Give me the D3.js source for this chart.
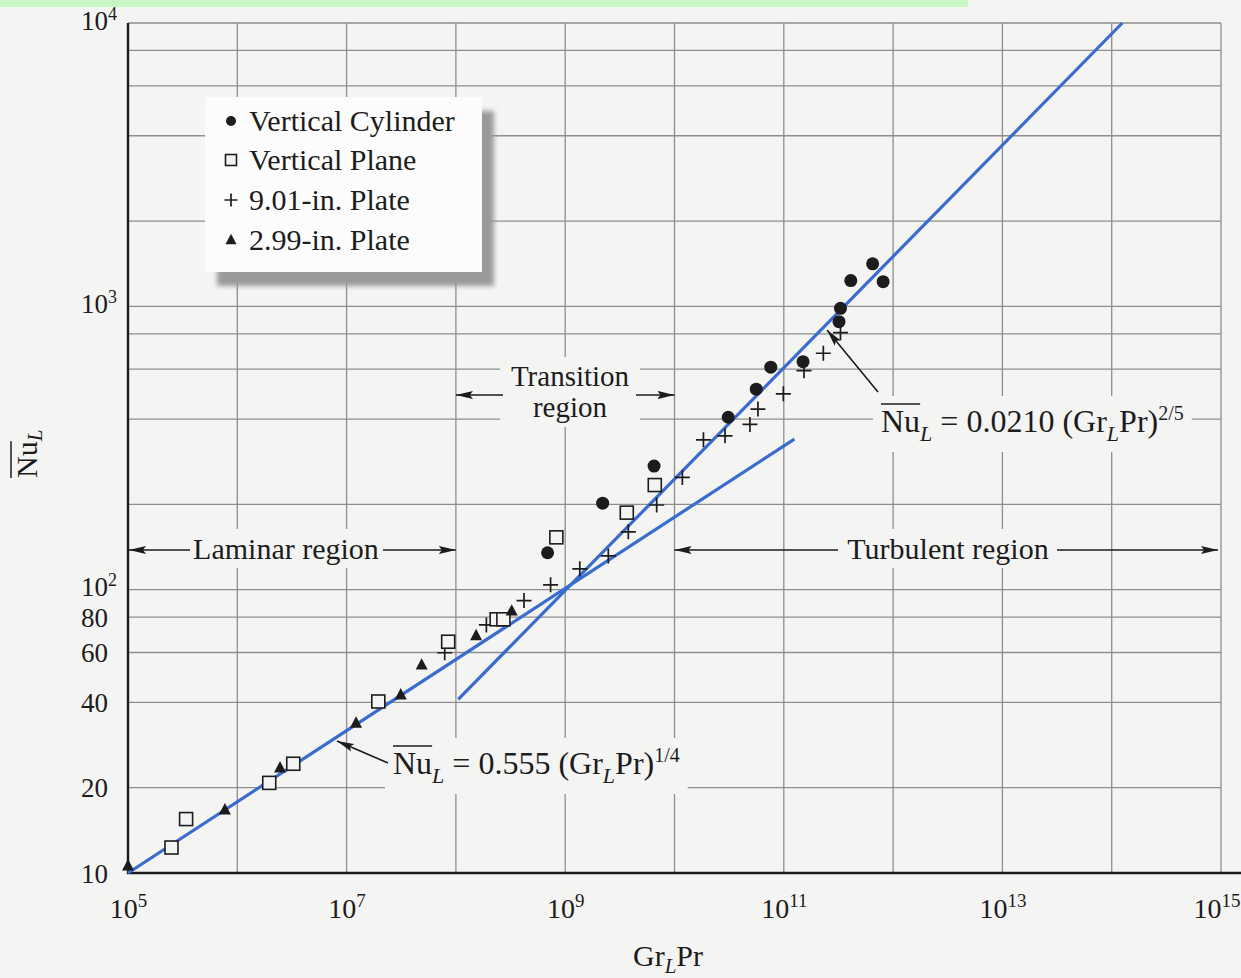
<!DOCTYPE html>
<html>
<head>
<meta charset="utf-8">
<title>Nu vs Gr Pr</title>
<script src="https://cdn.jsdelivr.net/npm/d3@7"></script>
<style>
  body { margin: 0; background: #f4f4f3; }
  svg { display: block; font-family: "Liberation Serif", "Times New Roman", serif; }
</style>
</head>
<body>
<svg id="chart" width="1241" height="978"></svg>
<script>
// values: x = Gr_L Pr, y = Nu_L
var cylinderRa = [6.9e8, 2.2e9, 6.5e9, 3.1e10, 5.6e10, 7.6e10, 1.5e11, 3.2e11, 3.3e11, 4.1e11, 6.5e11, 8.1e11];
var cylinderNu = [135, 202, 273, 406, 510, 610, 638, 883, 984, 1233, 1413, 1222];

var planeRa = [2.5e5, 3.4e5, 1.96e6, 3.25e6, 1.95e7, 8.5e7, 2.36e8, 2.72e8, 8.3e8, 3.66e9, 6.6e9];
var planeNu = [12.3, 15.5, 20.8, 24.3, 40.3, 65.5, 78.6, 78.6, 153, 187, 234];

var plate9Ra = [7.9e7, 1.9e8, 4.2e8, 7.35e8, 1.36e9, 2.48e9, 3.78e9, 6.87e9, 1.18e10, 1.84e10, 2.9e10, 4.9e10, 5.8e10, 9.9e10, 1.53e11, 2.3e11, 3.3e11];
var plate9Nu = [59.9, 75.1, 91.5, 104, 118.5, 131.5, 160, 199, 249, 338, 349, 383, 434, 491, 593, 683, 807];

var plate3Ra = [1.0e5, 7.7e5, 2.46e6, 1.22e7, 3.13e7, 4.86e7, 1.53e8, 3.24e8];
var plate3Nu = [10.6, 16.7, 23.5, 33.8, 42.5, 54.2, 68.8, 84.1];

// correlation lines (end points as drawn in the figure)
var laminarRa = [1e5, 1.25e11];
var laminarNu = [10, 340];
var turbulentRa = [1.05e8, 1.25e14];
var turbulentNu = [41, 10000];

// ticks and grid
var xTickVals = [1e5, 1e7, 1e9, 1e11, 1e13, 1e15];
var xTickExp = ["5", "7", "9", "11", "13", "15"];
var yTickVals = [10, 20, 40, 60, 80, 100, 1000, 10000];
var yTickBase = ["10", "20", "40", "60", "80", "10", "10", "10"];
var yTickExp = ["", "", "", "", "", "2", "3", "4"];
var xGridVals = [1e5, 1e6, 1e7, 1e8, 1e9, 1e10, 1e11, 1e12, 1e13, 1e14, 1e15];
var yGridVals = [10, 20, 40, 60, 80, 100, 200, 400, 600, 800, 1000, 2000, 4000, 6000, 8000, 10000];

var legendNames = ["Vertical Cylinder", "Vertical Plane", "9.01-in. Plate", "2.99-in. Plate"];
var legendSymbols = ["circle", "square", "plus", "triangle"];

// region boundaries (Gr_L Pr)
var laminarBounds = [1e5, 1e8];
var transitionBounds = [1e8, 1e10];
var turbulentBounds = [1e10, 1e15];

var W = 1241, H = 978;
var bg = "#f4f4f3";
var ink = "#1c1c1c";
var blue = "#3a6ccf";

var svg = d3.select("#chart");

var x = d3.scaleLog().domain([1e5, 1e15]).range([128, 1221]);
var y = d3.scaleLog().domain([10, 1e4]).range([873, 23]);

// arrow head
var defs = svg.append("defs");
defs.append("marker").attr("id", "arrow")
  .attr("markerUnits", "userSpaceOnUse")
  .attr("markerWidth", 18).attr("markerHeight", 10)
  .attr("refX", 17).attr("refY", 5).attr("orient", "auto")
  .append("path").attr("d", "M0,1 L17,5 L0,9 L3,5 Z").attr("fill", ink);
defs.append("filter").attr("id", "blur")
  .append("feGaussianBlur").attr("stdDeviation", 2.5);

svg.append("rect").attr("width", W).attr("height", H).attr("fill", bg);
svg.append("rect").attr("width", 968).attr("height", 7).attr("fill", "#c8f6c4");

// grid
var grid = svg.append("g").attr("stroke", "#8e8e8e").attr("stroke-width", 1.3);
grid.selectAll("line.v").data(xGridVals).enter().append("line").attr("class", "v")
  .attr("x1", d => x(d)).attr("x2", d => x(d))
  .attr("y1", y(1e4)).attr("y2", y(10));
grid.selectAll("line.h").data(yGridVals).enter().append("line").attr("class", "h")
  .attr("x1", x(1e5)).attr("x2", x(1e15))
  .attr("y1", d => y(d)).attr("y2", d => y(d));

// patches behind labels (filled later)
var knockG = svg.append("g");

// axes
var gx = svg.append("g").attr("transform", "translate(0," + y(10) + ")")
  .call(d3.axisBottom(x).tickValues(xTickVals).tickSize(0).tickFormat(() => "10"));
gx.attr("font-family", null).attr("font-size", null);
gx.select(".domain").remove();
gx.selectAll(".tick text").attr("y", 45).attr("dy", null)
  .attr("font-size", 28).attr("fill", ink)
  .append("tspan").attr("dy", -11).attr("font-size", 19).text((d, i) => xTickExp[i]);
// last label sits against the right edge, as in the figure
gx.selectAll(".tick text").filter(d => d === 1e15).attr("text-anchor", "end").attr("x", 19);

var gy = svg.append("g").attr("transform", "translate(" + x(1e5) + ",0)")
  .call(d3.axisLeft(y).tickValues(yTickVals).tickSize(0).tickFormat((d, i) => yTickBase[i]));
gy.attr("font-family", null).attr("font-size", null);
gy.select(".domain").remove();
gy.selectAll(".tick text").attr("x", -47).attr("y", (d, i) => yTickExp[i] ? 6 : 9).attr("dy", null)
  .attr("text-anchor", "start").attr("font-size", 27).attr("fill", ink)
  .append("tspan").attr("dy", -10).attr("font-size", 18).text((d, i) => yTickExp[i]);

svg.append("line").attr("x1", x(1e5)).attr("x2", x(1e5)).attr("y1", y(1e4)).attr("y2", y(10) + 1)
  .attr("stroke", ink).attr("stroke-width", 2.4);
svg.append("line").attr("x1", x(1e5) - 1).attr("x2", W).attr("y1", y(10)).attr("y2", y(10))
  .attr("stroke", ink).attr("stroke-width", 2.4);

// axis titles
var xt = svg.append("text").attr("x", 633).attr("y", 966).attr("font-size", 30).attr("fill", ink);
xt.append("tspan").text("Gr");
xt.append("tspan").attr("dy", 7).attr("font-size", 21).attr("font-style", "italic").text("L");
xt.append("tspan").attr("dy", -7).text("Pr");

var yt = svg.append("g").attr("transform", "translate(37,478) rotate(-90)");
var ytt = yt.append("text").attr("font-size", 30).attr("fill", ink);
var ytNu = ytt.append("tspan").text("Nu");
ytt.append("tspan").attr("dy", 5).attr("font-size", 21).attr("font-style", "italic").text("L");
yt.append("line").attr("x1", 0).attr("x2", ytNu.node().getComputedTextLength())
  .attr("y1", -26).attr("y2", -26).attr("stroke", ink).attr("stroke-width", 1.5);

// correlation lines
var lineGen = d3.line().x(d => x(d[0])).y(d => y(d[1]));
svg.append("path").datum(d3.zip(laminarRa, laminarNu)).attr("d", lineGen)
  .attr("fill", "none").attr("stroke", blue).attr("stroke-width", 3.2);
svg.append("path").datum(d3.zip(turbulentRa, turbulentNu)).attr("d", lineGen)
  .attr("fill", "none").attr("stroke", blue).attr("stroke-width", 3.2);

// symbols
function drawSymbol(g, type, cx, cy, s) {
  if (type === "circle") {
    g.append("circle").attr("cx", cx).attr("cy", cy).attr("r", s / 2).attr("fill", ink);
  } else if (type === "square") {
    g.append("rect").attr("x", cx - s / 2).attr("y", cy - s / 2).attr("width", s).attr("height", s)
      .attr("fill", bg).attr("stroke", ink).attr("stroke-width", 1.6);
  } else if (type === "plus") {
    g.append("path").attr("d", "M" + (cx - s / 2) + "," + cy + "H" + (cx + s / 2) +
      "M" + cx + "," + (cy - s / 2) + "V" + (cy + s / 2))
      .attr("stroke", ink).attr("stroke-width", 1.7).attr("fill", "none");
  } else if (type === "triangle") {
    var h = s * 0.95;
    g.append("path").attr("d", "M" + cx + "," + (cy - h * 0.6) + "L" + (cx + s / 2) + "," + (cy + h * 0.4) +
      "L" + (cx - s / 2) + "," + (cy + h * 0.4) + "Z").attr("fill", ink);
  }
}

var marks = svg.append("g");
d3.zip(plate9Ra, plate9Nu).forEach(d => drawSymbol(marks, "plus", x(d[0]), y(d[1]), 15));
d3.zip(planeRa, planeNu).forEach(d => drawSymbol(marks, "square", x(d[0]), y(d[1]), 13));
d3.zip(plate3Ra, plate3Nu).forEach(d => drawSymbol(marks, "triangle", x(d[0]), y(d[1]), 12));
d3.zip(cylinderRa, cylinderNu).forEach(d => drawSymbol(marks, "circle", x(d[0]), y(d[1]), 13));

// legend
var lg = svg.append("g");
lg.append("rect").attr("x", 217).attr("y", 111).attr("width", 277).attr("height", 175)
  .attr("fill", "#9a9a9a").attr("filter", "url(#blur)");
lg.append("rect").attr("x", 205).attr("y", 97).attr("width", 277).attr("height", 175).attr("fill", "#fcfcfc");
var legendBase = [131, 170, 210, 250];
var legendSize = [10, 11, 13, 11];
legendNames.forEach(function(name, i) {
  drawSymbol(lg, legendSymbols[i], 231, legendBase[i] - 10, legendSize[i]);
  lg.append("text").attr("x", 249).attr("y", legendBase[i]).attr("font-size", 30).attr("fill", ink).text(name);
});

// annotations
function knock(t, padX, padY) {
  var b = t.node().getBBox();
  knockG.append("rect").attr("x", b.x - padX).attr("y", b.y - padY)
    .attr("width", b.width + 2 * padX).attr("height", b.height + 2 * padY).attr("fill", bg);
}
function arrow(x1, y1, x2, y2) {
  svg.append("line").attr("x1", x1).attr("y1", y1).attr("x2", x2).attr("y2", y2)
    .attr("stroke", ink).attr("stroke-width", 1.6).attr("marker-end", "url(#arrow)");
}

var lamT = svg.append("text").attr("x", 286).attr("y", 559).attr("text-anchor", "middle")
  .attr("font-size", 30).attr("fill", ink).text("Laminar region");
knock(lamT, 6, 3);
arrow(190, 550, x(laminarBounds[0]) + 1, 550);
arrow(383, 550, x(laminarBounds[1]), 550);

var turT = svg.append("text").attr("x", 948).attr("y", 559).attr("text-anchor", "middle")
  .attr("font-size", 30).attr("fill", ink).text("Turbulent region");
knock(turT, 6, 3);
arrow(838, 550, x(turbulentBounds[0]), 550);
arrow(1057, 550, x(turbulentBounds[1]) - 3, 550);

var trT1 = svg.append("text").attr("x", 570).attr("y", 386).attr("text-anchor", "middle")
  .attr("font-size", 29).attr("fill", ink).text("Transition");
var trT2 = svg.append("text").attr("x", 570).attr("y", 417).attr("text-anchor", "middle")
  .attr("font-size", 29).attr("fill", ink).text("region");
knockG.append("rect").attr("x", 500).attr("y", 357).attr("width", 140).attr("height", 70).attr("fill", bg);
arrow(503, 395, x(transitionBounds[0]), 395);
arrow(636, 395, x(transitionBounds[1]), 395);

function eqLabel(px, py, coef, power) {
  var t = svg.append("text").attr("x", px).attr("y", py).attr("font-size", 32).attr("fill", ink);
  var nu = t.append("tspan").text("Nu");
  t.append("tspan").attr("dy", 9).attr("font-size", 22).attr("font-style", "italic").text("L");
  t.append("tspan").attr("dy", -9).text(" = " + coef + " (Gr");
  t.append("tspan").attr("dy", 9).attr("font-size", 22).attr("font-style", "italic").text("L");
  t.append("tspan").attr("dy", -9).text("Pr)");
  t.append("tspan").attr("dy", -12).attr("font-size", 20).text(power);
  knock(t, 8, 6);
  var w = nu.node().getComputedTextLength();
  svg.append("line").attr("x1", px).attr("x2", px + w).attr("y1", py - 28).attr("y2", py - 28)
    .attr("stroke", ink).attr("stroke-width", 1.5);
  return t;
}
eqLabel(881, 432, "0.0210", "2/5");
arrow(878, 392, 827, 330);
eqLabel(393, 774, "0.555", "1/4");
arrow(388, 763, 337, 741);
</script>
</body>
</html>
